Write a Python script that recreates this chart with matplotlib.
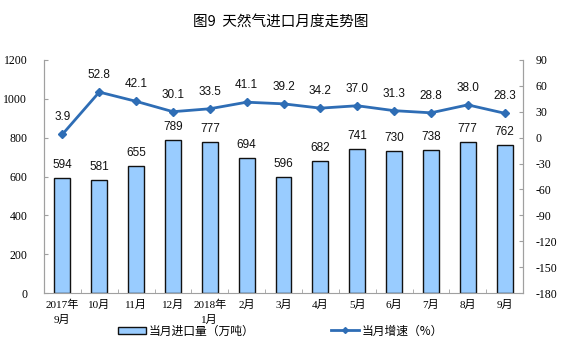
import numpy as np
import matplotlib
matplotlib.use('Agg')
import matplotlib.pyplot as plt
from matplotlib.patches import Patch
from matplotlib.lines import Line2D

plt.rcParams['font.family'] = ['Liberation Serif', 'Noto Sans CJK SC']
plt.rcParams['axes.unicode_minus'] = False

# data
months = ['2017年\n9月', '10月', '11月', '12月', '2018年\n1月', '2月', '3月',
          '4月', '5月', '6月', '7月', '8月', '9月']
imports = [594, 581, 655, 789, 777, 694, 596, 682, 741, 730, 738, 777, 762]
growth = [3.9, 52.8, 42.1, 30.1, 33.5, 41.1, 39.2, 34.2, 37.0, 31.3, 28.8, 38.0, 28.3]

bar_color = '#99CCFF'
line_color = '#2E6DB5'
spine_color = '#A0A0A0'
cn_font = ['Noto Sans CJK SC', 'DejaVu Sans']
num_font = ['Liberation Sans', 'DejaVu Sans']

fig = plt.figure(figsize=(5.61, 3.57), dpi=100)
ax = fig.add_axes([0.0784, 0.179, 0.854, 0.653])
ax2 = ax.twinx()

x = np.arange(len(months))
ax.bar(x, imports, width=0.43, color=bar_color, edgecolor='#111111', linewidth=1.0, zorder=2)
for xi, v in zip(x, imports):
    ax.annotate(str(v), (xi, v), xytext=(0, 5), textcoords='offset points',
                ha='center', va='bottom', fontsize=8.5, family=num_font, color='#111111')

ax2.plot(x, growth, color=line_color, linewidth=2, marker='D', markersize=4, zorder=3)
for xi, v in zip(x, growth):
    ax2.annotate('%.1f' % v, (xi, v), xytext=(0, 8), textcoords='offset points',
                 ha='center', va='bottom', fontsize=8.5, family=num_font, color='#111111')

ax.set_xlim(-0.5, len(months) - 0.5)
ax.set_ylim(0, 1200)
ax.set_yticks(np.arange(0, 1201, 200))
ax2.set_ylim(-180, 90)
ax2.set_yticks(np.arange(-180, 91, 30))

ax.set_xticks(x)
ax.set_xticklabels(months, fontsize=8, linespacing=1.5)
ax.set_xticks(np.arange(-0.5, len(months), 1), minor=True)
ax.tick_params(axis='x', which='major', length=0, pad=5)
ax.tick_params(axis='x', which='minor', length=3, direction='in', color=spine_color)
ax.tick_params(axis='y', length=3, direction='in', color=spine_color, labelsize=8.5, pad=12)
ax2.tick_params(axis='y', length=3, direction='in', color=spine_color, labelsize=8.5, pad=9)

for a in (ax, ax2):
    a.spines['top'].set_visible(False)
    for s in ('left', 'right', 'bottom'):
        a.spines[s].set_color(spine_color)
ax2.spines['bottom'].set_visible(False)

fig.text(0.5, 0.94, '图9  天然气进口月度走势图', ha='center', va='center',
         fontsize=10.5, family=cn_font)

handles = [Patch(facecolor=bar_color, edgecolor='#111111', linewidth=1.0),
           Line2D([0], [0], color=line_color, linewidth=2, marker='D', markersize=3)]
fig.legend(handles, ['当月进口量（万吨）', '当月增速（%）'], loc='center',
           bbox_to_anchor=(0.5, 0.073), ncol=2, frameon=False, columnspacing=6.5,
           handlelength=2.4, handleheight=0.6, handletextpad=0.2,
           prop={'family': cn_font, 'size': 8.5})

fig.savefig('out.png', dpi=100)
